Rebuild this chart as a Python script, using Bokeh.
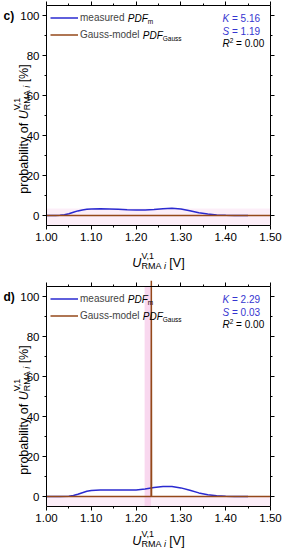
from math import pi
from bokeh.plotting import figure
from bokeh.models import (Range1d, LinearAxis, FixedTicker, PrintfTickFormatter,
                          Label, Legend, LegendItem)
from bokeh.layouts import column
from bokeh.embed import file_html
from bokeh.resources import INLINE

FONT = "Liberation Sans"
BLUE = "#2a2ad0"
BROWN = "#94481a"
STAT_BLUE = "#3535d0"
PINK = "#f6c8e8"

# ---------------- data ----------------
x_lim = [1.00, 1.50]
y_lim = [-5, 105]
x_ticks = [1.00, 1.10, 1.20, 1.30, 1.40, 1.50]
x_minor = [1.05, 1.15, 1.25, 1.35, 1.45]
y_ticks = [0, 20, 40, 60, 80, 100]
y_minor = [10, 30, 50, 70, 90]

c_meas_x = [1.00, 1.02, 1.03, 1.04, 1.05, 1.06, 1.07, 1.08, 1.09, 1.10, 1.12, 1.14,
            1.16, 1.18, 1.20, 1.22, 1.24, 1.26, 1.28, 1.30, 1.32, 1.34, 1.36, 1.38,
            1.40, 1.42, 1.45]
c_meas_y = [0.0, 0.0, 0.1, 0.4, 0.9, 1.6, 2.3, 2.8, 3.1, 3.3, 3.4, 3.3,
            3.1, 2.9, 2.8, 2.8, 3.0, 3.4, 3.6, 3.3, 2.4, 1.4, 0.7, 0.3,
            0.1, 0.05, 0.0]
c_gauss_x = [1.00, 1.50]
c_gauss_y = [0.0, 0.0]
c_band_y = [-5, 3.5]
c_stats = ["5.16", "1.19", "0.00"]

d_meas_x = [1.00, 1.03, 1.05, 1.06, 1.07, 1.08, 1.09, 1.10, 1.12, 1.14, 1.16, 1.18,
            1.20, 1.22, 1.24, 1.26, 1.28, 1.30, 1.32, 1.34, 1.36, 1.38, 1.40, 1.42, 1.45]
d_meas_y = [0.0, 0.0, 0.1, 0.5, 1.1, 1.9, 2.6, 3.0, 3.2, 3.3, 3.3, 3.2,
            3.3, 3.8, 4.5, 5.0, 5.0, 4.3, 3.1, 1.8, 0.9, 0.4, 0.15, 0.05, 0.0]
d_gauss_x = [1.00, 1.2335, 1.234, 1.2345, 1.50]
d_gauss_y = [0.0, 0.0, 108.0, 0.0, 0.0]
d_band_x = [1.219, 1.233]
d_band_y = [-5, 0]
d_stats = ["2.29", "0.03", "0.00"]

# --------------- text helpers ---------------
W = {' ': 278, '%': 889, ',': 278, '-': 333, '.': 278, '=': 584, '[': 278, ']': 278,
     '(': 333, ')': 333, 'A': 667, 'D': 722, 'F': 611, 'G': 778, 'K': 667, 'M': 833,
     'P': 667, 'R': 722, 'S': 667, 'U': 722, 'V': 667, 'a': 556, 'b': 556, 'c': 500,
     'd': 556, 'e': 556, 'f': 278, 'g': 556, 'h': 556, 'i': 222, 'l': 222, 'm': 833,
     'n': 556, 'o': 556, 'p': 556, 'r': 333, 's': 500, 't': 278, 'u': 556, 'y': 500}
for ch in "0123456789":
    W[ch] = 556


def tw(s, size):
    return sum(W.get(ch, 556) for ch in s) * size / 1000.0


def seg_width(seg):
    return max(sum(tw(t, sz) for (t, sz, st, sh, col) in run) for run in seg)


def rich(p, segs, ax, ay, ox, oy, vertical=False, baseline="alphabetic"):
    adv = 0.0
    for seg in segs:
        for run in seg:
            a = adv
            for (t, sz, st, sh, col) in run:
                lead = len(t) - len(t.lstrip(" "))
                a0 = a + tw(" " * lead, sz)
                txt = t.strip(" ")
                if txt:
                    if vertical:
                        xo, yo, ang = ox - sh, oy + a0, pi / 2
                    else:
                        xo, yo, ang = ox + a0, oy + sh, 0
                    p.add_layout(Label(x=ax, y=ay, x_offset=xo, y_offset=yo, text=txt,
                                       angle=ang, text_font=FONT,
                                       text_font_size=f"{sz}px", text_font_style=st,
                                       text_color=col, text_align="left",
                                       text_baseline=baseline))
                a += tw(t, sz)
        adv += seg_width(seg)
    return adv


def total_width(segs):
    return sum(seg_width(s) for s in segs)


FIG_W = 286
FRAME_W = 224
FRAME_H = 220
LEFT = 46
RIGHT = FIG_W - LEFT - FRAME_W


def style_axis(ax, labels, ticker, fmt=None):
    ax.ticker = ticker
    ax.axis_line_color = "black"
    ax.axis_line_width = 1
    ax.major_tick_line_color = "black"
    ax.minor_tick_line_color = "black"
    ax.major_tick_in = 0
    ax.major_tick_out = 4
    ax.minor_tick_in = 0
    ax.minor_tick_out = 2
    ax.major_label_text_font = FONT
    if fmt is not None:
        ax.formatter = fmt
    if labels:
        ax.major_label_text_color = "black"
        ax.major_label_text_font_size = "11.5px"
        ax.major_label_standoff = 3
    else:
        ax.major_label_text_color = None
        ax.major_label_standoff = 0


def make_panel(tag, mx, my, gx, gy, stats, bands, H, T, title_off):
    B = H - T - FRAME_H
    ppx = FRAME_W / (x_lim[1] - x_lim[0])
    ppy = FRAME_H / (y_lim[1] - y_lim[0])
    xr = Range1d(x_lim[0] - LEFT / ppx, x_lim[1] + RIGHT / ppx)
    yr = Range1d(y_lim[0] - B / ppy, y_lim[1] + T / ppy)
    p = figure(width=FIG_W, height=H, output_backend="svg", toolbar_location=None,
               x_range=xr, y_range=yr, x_axis_location=None, y_axis_location=None,
               min_border=0)
    p.title.visible = False
    p.grid.visible = False
    p.outline_line_color = None
    p.background_fill_color = "white"
    p.border_fill_color = "white"

    for (l, r, b, t, alpha) in bands:
        p.quad(left=[l], right=[r], bottom=[b], top=[t], fill_color=PINK,
               fill_alpha=alpha, line_color=None)

    r_m = p.line(mx, my, line_color=BLUE, line_width=1.5)
    r_g = p.line(gx, gy, line_color=BROWN, line_width=1.5)

    xb = tuple(x_lim)
    yb = tuple(y_lim)
    ax_b = LinearAxis(fixed_location=y_lim[0], bounds=xb)
    ax_t = LinearAxis(fixed_location=y_lim[1], bounds=xb)
    ax_l = LinearAxis(fixed_location=x_lim[0], bounds=yb)
    ax_r = LinearAxis(fixed_location=x_lim[1], bounds=yb)
    style_axis(ax_b, True, FixedTicker(ticks=x_ticks, minor_ticks=x_minor),
               PrintfTickFormatter(format="%.2f"))
    style_axis(ax_t, False, FixedTicker(ticks=x_ticks, minor_ticks=x_minor))
    style_axis(ax_l, True, FixedTicker(ticks=y_ticks, minor_ticks=y_minor))
    style_axis(ax_r, False, FixedTicker(ticks=y_ticks, minor_ticks=y_minor))
    p.add_layout(ax_b, "below")
    p.add_layout(ax_t, "above")
    p.add_layout(ax_l, "left")
    p.add_layout(ax_r, "right")

    pad, gh, gw, std = 4, 17, 28, 2
    leg_h = 2 * pad + 2 * gh
    leg = Legend(items=[LegendItem(label="measured", renderers=[r_m]),
                        LegendItem(label="Gauss-model", renderers=[r_g])],
                 location=(LEFT, H - T - leg_h), margin=0, padding=pad, spacing=0,
                 glyph_width=gw, glyph_height=gh, label_height=gh, label_standoff=std,
                 label_text_font=FONT, label_text_font_size="10px",
                 border_line_alpha=0, background_fill_alpha=0)
    p.add_layout(leg)

    x0, y1 = x_lim[0], y_lim[1]
    lx = pad + gw + std
    rich(p, [[[(" PDF", 10, "italic", 0, "black")]], [[("m", 6.5, "normal", -3.5, "black")]]],
         x0, y1, lx + tw("measured", 10), -(pad + gh / 2), baseline="middle")
    rich(p, [[[(" PDF", 10, "italic", 0, "black")]], [[("Gauss", 6.5, "normal", -3.5, "black")]]],
         x0, y1, lx + tw("Gauss-model", 10), -(pad + gh * 1.5), baseline="middle")

    sx = 176
    rich(p, [[[("K", 10, "italic", 0, STAT_BLUE), (" = " + stats[0], 10, "normal", 0, STAT_BLUE)]]],
         x0, y1, sx, -13, baseline="middle")
    rich(p, [[[("S", 10, "italic", 0, STAT_BLUE), (" = " + stats[1], 10, "normal", 0, STAT_BLUE)]]],
         x0, y1, sx, -25.5, baseline="middle")
    rich(p, [[[("R", 10, "italic", 0, "black")]], [[("2", 6.5, "normal", 3.5, "black")]],
              [[(" = " + stats[2], 10, "normal", 0, "black")]]],
         x0, y1, sx, -38, baseline="middle")

    p.add_layout(Label(x=x0, y=y_ticks[-1], x_offset=-43, y_offset=0, text=tag,
                       text_font=FONT, text_font_size="12px", text_font_style="bold",
                       text_color="black", text_align="left", text_baseline="middle"))

    ybot = y_lim[0]
    sub = [[("V,1", 9, "normal", 7, "black")],
           [("RMA ", 9, "normal", -3, "black"), ("i", 9, "italic", -3, "black")]]
    xsegs = [[[("U", 12.5, "italic", 0, "black")]], sub,
             [[(" [V]", 12.5, "normal", 0, "black")]]]
    wx = total_width(xsegs)
    rich(p, xsegs, x0, ybot, FRAME_W / 2 - wx / 2, -title_off)

    ysegs = [[[("probability of ", 12.5, "normal", 0, "black")]],
             [[("U", 12.5, "italic", 0, "black")]], sub,
             [[(" [%]", 12.5, "normal", 0, "black")]]]
    wy = total_width(ysegs)
    rich(p, ysegs, x0, ybot, -23, FRAME_H / 2 - 13.5 - wy / 2, vertical=True)
    return p


bands_c = [(x_lim[0], x_lim[1], c_band_y[0], c_band_y[1], 0.3)]
bands_d = [(d_band_x[0], d_band_x[1], y_lim[0], y_lim[1], 0.7),
           (x_lim[0], x_lim[1], d_band_y[0], d_band_y[1], 0.3)]

pc = make_panel("c)", c_meas_x, c_meas_y, c_gauss_x, c_gauss_y, c_stats, bands_c,
                H=280, T=5, title_off=37)
pd = make_panel("d)", d_meas_x, d_meas_y, d_gauss_x, d_gauss_y, d_stats, bands_d,
                H=270, T=6, title_off=34)

layout = column(pc, pd)
open("out.html", "w").write(file_html(layout, INLINE))
